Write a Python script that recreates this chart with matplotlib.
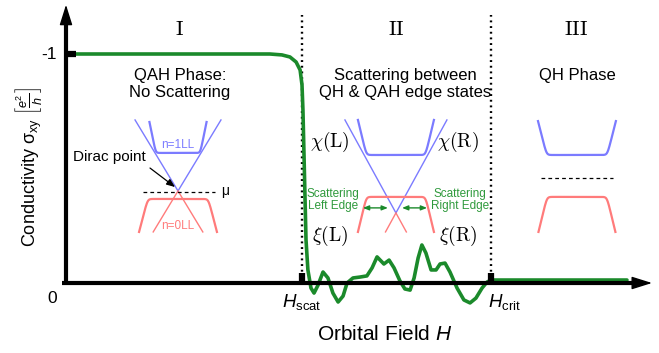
import numpy as np
import matplotlib
matplotlib.use("Agg")
import matplotlib.pyplot as plt

plt.rcParams['font.family'] = ['Liberation Sans', 'DejaVu Sans']
plt.rcParams['mathtext.fontset'] = 'custom'
plt.rcParams['mathtext.rm'] = 'Liberation Sans'
plt.rcParams['mathtext.it'] = 'Liberation Sans:italic'
plt.rcParams['mathtext.bf'] = 'Liberation Sans:bold'

# ---------------- data (H in units of H_scat, |sigma_xy| in e^2/h) -------------
H_scat = 1.0
H_crit = 1.80
H_curve = [0.042, 0.568, 0.864, 0.915, 0.949, 0.975, 0.992, 1.000, 1.004, 1.008,
           1.013, 1.017, 1.025, 1.038, 1.051, 1.068, 1.089, 1.110, 1.131, 1.153,
           1.174, 1.191, 1.216, 1.246, 1.275, 1.297, 1.318, 1.335, 1.347, 1.369,
           1.390, 1.415, 1.436, 1.458, 1.475, 1.492, 1.508, 1.525, 1.547, 1.568,
           1.585, 1.606, 1.627, 1.657, 1.686, 1.712, 1.737, 1.763, 1.784, 1.801,
           2.377]
sigma_curve = [1.0, 1.0, 1.0, 0.996, 0.987, 0.965, 0.930, 0.865, 0.755, 0.581,
               0.362, 0.188, 0.057, -0.022, -0.044, -0.009, 0.048, 0.022, -0.044, -0.083,
               -0.057, 0.000, 0.022, 0.026, 0.031, 0.066, 0.114, 0.096, 0.083, 0.100,
               0.066, 0.009, -0.026, -0.031, 0.022, 0.109, 0.166, 0.131, 0.057, 0.057,
               0.083, 0.087, 0.048, -0.022, -0.074, -0.087, -0.066, -0.022, 0.004, 0.013,
               0.013]
y_tick_labels = ["-1", "0"]
region_labels = ["I", "II", "III"]

GREEN = '#1b8a2b'
GREEN_TXT = '#2f9a3c'
BLUE = '#7b7bff'
RED = '#ff7b7b'

fig = plt.figure(figsize=(6.59, 3.53), dpi=100)
ax = fig.add_axes([0, 0, 1, 1])
ax.set_xlim(-66 / 236, (659 - 66) / 236)
ax.set_ylim((283 - 353) / 229, 283 / 229)
ax.axis('off')

# ---------------- axes with arrows ----------------
ax.plot([0, 0], [0, 1.17], color='k', lw=3, solid_capstyle='butt', zorder=5)
ax.plot([-0.017, 2.42], [0, 0], color='k', lw=3, solid_capstyle='butt', zorder=5)
ax.annotate('', xy=(0, 1.215), xytext=(0, 1.12),
            arrowprops=dict(arrowstyle='-|>,head_length=0.7,head_width=0.22', lw=1,
                            color='k', mutation_scale=18, shrinkA=0, shrinkB=0), zorder=6)
ax.annotate('', xy=(2.483, 0), xytext=(2.38, 0),
            arrowprops=dict(arrowstyle='-|>,head_length=0.7,head_width=0.22', lw=1,
                            color='k', mutation_scale=18, shrinkA=0, shrinkB=0), zorder=6)

# dotted separators
for hx in (H_scat, H_crit):
    ax.plot([hx, hx], [0, 1.17], color='k', lw=1.7, linestyle=(0, (0.8, 1.6)), zorder=2)

# green curve
ax.plot(H_curve, sigma_curve, color=GREEN, lw=2.6, solid_joinstyle='round',
        solid_capstyle='round', zorder=4)

# black tick marks
ax.plot([0, 0.042], [1.0, 1.0], color='k', lw=4.5, solid_capstyle='butt', zorder=6)
for hx in (H_scat, H_crit):
    ax.plot([hx, hx], [0, 0.045], color='k', lw=4.5, solid_capstyle='butt', zorder=6)

# tick labels
ax.text(-0.038, 1.0, y_tick_labels[0], ha='right', va='center', fontsize=12.5)
ax.text(-0.059, -0.066, y_tick_labels[1], ha='center', va='center', fontsize=12.5)
ax.text(H_scat, -0.085, r'$H_{\rm scat}$', ha='center', va='center', fontsize=13.5)
ax.text(H_crit - 0.012, -0.085, r'$H_{\rm crit}$', ha='left', va='center', fontsize=13.5)
ax.text(1.352, -0.227, r'Orbital Field $H$', ha='center', va='center', fontsize=15)
ax.text(-0.161, 0.507, r'Conductivity σ$_{\rm xy}$ $\left[\frac{e^2}{h}\right]$',
        ha='center', va='center', rotation=90, fontsize=13)

# region labels
for hx, lab in zip((0.483, 1.398, 2.163), region_labels):
    ax.text(hx, 1.105, r'$\mathrm{%s}$' % lab, ha='center', va='center', fontsize=15,
            math_fontfamily='cm')

ax.text(0.483, 0.869, 'QAH Phase:\nNo Scattering', ha='center', va='center',
        fontsize=12, linespacing=1.1)
ax.text(1.436, 0.869, 'Scattering between\nQH & QAH edge states', ha='center',
        va='center', fontsize=12, linespacing=1.1)
ax.text(2.165, 0.908, 'QH Phase', ha='center', va='center', fontsize=12)


def band(xc, y_flat, y_end, half_w, flat_frac=0.78, k=0.025):
    """Rounded trapezoid Landau level shape."""
    t = np.linspace(-1, 1, 301)
    u = np.abs(t)
    g = k * np.log1p(np.exp((u - flat_frac) / k))
    g1 = k * np.log1p(np.exp((1 - flat_frac) / k))
    g0 = k * np.log1p(np.exp((0 - flat_frac) / k))
    g = (g - g0) / (g1 - g0)
    return xc + half_w * t, y_flat + (y_end - y_flat) * g


def cone(ax, xc, yc, top, bottom, slope, lw=1.0):
    # slope: dH per unit sigma
    for sgn in (-1, 1):
        ax.plot([xc, xc + sgn * slope * (top - yc)], [yc, top], color=BLUE, lw=lw)
        ax.plot([xc, xc + sgn * slope * (yc - bottom)], [yc, bottom], color=RED, lw=lw)


# ---------------- Region I diagram ----------------
cone(ax, 0.4746, 0.402, 0.712, 0.223, 0.182 / 0.310)
x, y = band(0.4746, 0.568, 0.703, 0.121)
ax.plot(x, y, color=BLUE, lw=1.6)
x, y = band(0.4746, 0.367, 0.223, 0.165)
ax.plot(x, y, color=RED, lw=1.6)
ax.plot([0.326, 0.631], [0.397, 0.397], color='k', lw=0.9, linestyle=(0, (3, 2.5)))
ax.text(0.674, 0.40, 'μ', ha='center', va='center', fontsize=10)
ax.text(0.4746, 0.603, 'n=1LL', ha='center', va='center', fontsize=8.5, color=BLUE)
ax.text(0.4746, 0.251, 'n=0LL', ha='center', va='center', fontsize=8.5, color=RED)
ax.text(0.030, 0.552, 'Dirac point', ha='left', va='center', fontsize=11)
ax.annotate('', xy=(0.462, 0.419), xytext=(0.356, 0.502),
            arrowprops=dict(arrowstyle='-|>,head_length=0.5,head_width=0.2', lw=0.9,
                            color='k', mutation_scale=10, shrinkA=0, shrinkB=0))

# ---------------- Region II diagram ----------------
cone(ax, 1.398, 0.306, 0.712, 0.223, 0.216 / 0.406)
x, y = band(1.398, 0.559, 0.712, 0.161)
ax.plot(x, y, color=BLUE, lw=1.6)
x, y = band(1.398, 0.376, 0.223, 0.161)
ax.plot(x, y, color=RED, lw=1.6)
ax.text(1.119, 0.616, r'$\chi(\mathrm{L})$', ha='center', va='center', fontsize=14,
        math_fontfamily='cm')
ax.text(1.661, 0.616, r'$\chi(\mathrm{R})$', ha='center', va='center', fontsize=14,
        math_fontfamily='cm')
ax.text(1.119, 0.206, r'$\xi(\mathrm{L})$', ha='center', va='center', fontsize=14,
        math_fontfamily='cm')
ax.text(1.661, 0.206, r'$\xi(\mathrm{R})$', ha='center', va='center', fontsize=14,
        math_fontfamily='cm')
ax.text(1.131, 0.362, 'Scattering\nLeft Edge', ha='center', va='center', fontsize=8.5,
        color=GREEN_TXT, linespacing=0.95)
ax.text(1.669, 0.362, 'Scattering\nRight Edge', ha='center', va='center', fontsize=8.5,
        color=GREEN_TXT, linespacing=0.95)
for a, b in ((1.258, 1.364), (1.424, 1.530)):
    ax.annotate('', xy=(b, 0.328), xytext=(a, 0.328),
                arrowprops=dict(arrowstyle='<|-|>,head_length=0.5,head_width=0.2', lw=1,
                                color=GREEN, mutation_scale=7, shrinkA=0, shrinkB=0))

# ---------------- Region III diagram ----------------
x, y = band(2.165, 0.559, 0.707, 0.165)
ax.plot(x, y, color=BLUE, lw=1.6)
x, y = band(2.165, 0.376, 0.223, 0.163)
ax.plot(x, y, color=RED, lw=1.6)
ax.plot([2.013, 2.318], [0.459, 0.459], color='k', lw=0.9, linestyle=(0, (3, 2.5)))

fig.savefig('out.png', dpi=100)
